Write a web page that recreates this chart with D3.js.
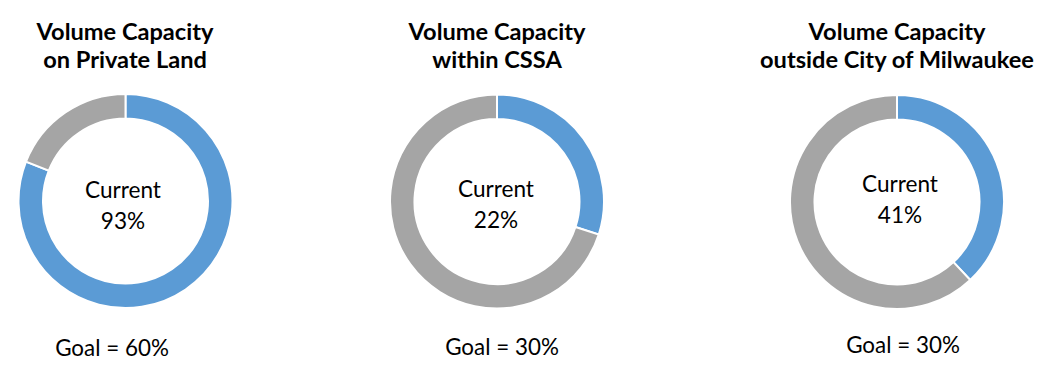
<!DOCTYPE html>
<html>
<head>
<meta charset="utf-8">
<script src="https://cdn.jsdelivr.net/npm/d3@7"></script>
<style>
  html, body { margin: 0; padding: 0; background: #fff; }
  svg { display: block; }
  text { font-family: Lato, "Open Sans", sans-serif; fill: #000; }
</style>
</head>
<body>
<svg id="chart" width="1041" height="372"></svg>
<script>
// ---- data ----
const titlesLine1 = ["Volume Capacity", "Volume Capacity", "Volume Capacity"];
const titlesLine2 = ["on Private Land", "within CSSA", "outside City of Milwaukee"];
const currentLabels = ["93%", "22%", "41%"];
const goalLabels = ["Goal = 60%", "Goal = 30%", "Goal = 30%"];
const blueShare = [81, 30, 38];   // share of ring drawn blue
const grayShare = [19, 70, 62];

// ---- layout ----
const svg = d3.select("#chart");
const centers = [[125.5, 201], [497, 201.5], [897, 202]];
const titleX = [125, 497, 897];
const currentX = [123, 496, 900];
const currentY = [198, 197, 192];
const goalX = [112, 502, 903];
const goalY = [356, 355, 353];
const outerR = 107, innerR = 82.5;
const colors = ["#5B9BD5", "#A5A5A5"];

const pie = d3.pie().sort(null).value(d => d).startAngle(0).endAngle(2 * Math.PI);
const arc = d3.arc().innerRadius(innerR).outerRadius(outerR);

centers.forEach((c, i) => {
  const g = svg.append("g").attr("transform", `translate(${c[0]},${c[1]})`);
  g.selectAll("path")
    .data(pie([blueShare[i], grayShare[i]]))
    .join("path")
    .attr("d", arc)
    .attr("fill", (d, j) => colors[j])
    .attr("stroke", "#fff")
    .attr("stroke-width", 2);

  svg.append("text")
    .attr("x", titleX[i]).attr("y", 40)
    .attr("text-anchor", "middle")
    .style("font-size", "23.6px").style("font-weight", "bold")
    .text(titlesLine1[i]);
  svg.append("text")
    .attr("x", titleX[i]).attr("y", 68)
    .attr("text-anchor", "middle")
    .style("font-size", "23.6px").style("font-weight", "bold")
    .text(titlesLine2[i]);

  svg.append("text")
    .attr("x", currentX[i]).attr("y", currentY[i])
    .attr("text-anchor", "middle")
    .style("font-size", "22.6px")
    .text("Current");
  svg.append("text")
    .attr("x", currentX[i]).attr("y", currentY[i] + 31)
    .attr("text-anchor", "middle")
    .style("font-size", "22.6px")
    .text(currentLabels[i]);

  svg.append("text")
    .attr("x", goalX[i]).attr("y", goalY[i])
    .attr("text-anchor", "middle")
    .style("font-size", "22.4px")
    .text(goalLabels[i]);
});
</script>
</body>
</html>
